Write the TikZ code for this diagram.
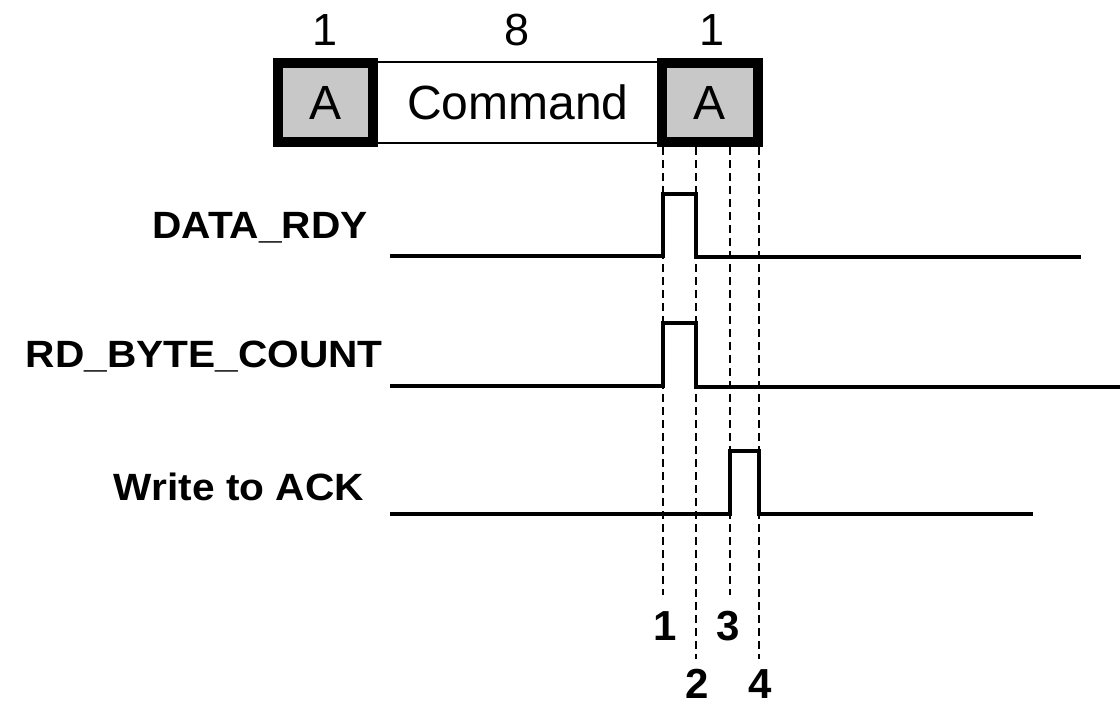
\documentclass[tikz,border=0pt]{standalone}
\usepackage{fontspec}
\setmainfont{Liberation Sans}
\definecolor{boxgray}{HTML}{C8C8C8}
\newcommand{\siglbl}[1]{\scalebox{1.07}[1]{\bfseries #1}}
\begin{document}
\begin{tikzpicture}[x=1pt,y=-1pt,
  topnum/.style={font=\fontsize{45}{50}\selectfont, inner sep=0pt, anchor=base},
  boxtxt/.style={font=\fontsize{48}{52}\selectfont, inner sep=0pt},
  sig/.style={line width=4pt, line join=miter},
  signame/.style={font=\fontsize{38}{40}\selectfont, inner sep=0pt, anchor=base east},
  guide/.style={line width=2pt, dash pattern=on 8pt off 5pt},
  marknum/.style={font=\bfseries\fontsize{42}{44}\selectfont, inner sep=0pt, anchor=base},
  abox/.style={line width=10pt, fill=boxgray, draw=black}]
\useasboundingbox (0,0) rectangle (1120,707);
% frame boxes
\draw[line width=2pt, fill=white] (373,62) rectangle (662,143);
\draw[abox] (278,63) rectangle (373,142);
\draw[abox] (662,63) rectangle (758,142);
\node[boxtxt] (a1) at (325.5,102.5) {A};
\node[boxtxt] (cmd) at (518,102.5) {Command};
\node[boxtxt] (a2) at (710,102.5) {A};
\node[topnum] (n1) at (325,45) {1};
\node[topnum] (n8) at (517,45) {8};
\node[topnum] (n1b) at (712,45) {1};
% guides
\draw[guide] (663,147) -- (663,595);
\draw[guide] (696,147) -- (696,659);
\draw[guide] (730,147) -- (730,595);
\draw[guide] (759,147) -- (759,659);
% signals
\draw[sig] (390,256) -- (663,256) -- (663,194) -- (696,194) -- (696,257) -- (1081,257);
\draw[sig] (390,386) -- (663,386) -- (663,323) -- (696,323) -- (696,387) -- (1120,387);
\draw[sig] (390,514) -- (730,514) -- (730,451) -- (759,451) -- (759,514) -- (1033,514);
% signal names
\node[signame] (s1) at (368,238) {\siglbl{DATA\_RDY}};
\node[signame] (s2) at (383,367) {\siglbl{RD\_BYTE\_COUNT}};
\node[signame] (s3) at (364,500) {\siglbl{Write to ACK}};
% markers
\node[marknum] (m1) at (665,640) {1};
\node[marknum] (m3) at (728,640) {3};
\node[marknum] (m2) at (697,698) {2};
\node[marknum] (m4) at (760,698) {4};
\end{tikzpicture}
\end{document}
